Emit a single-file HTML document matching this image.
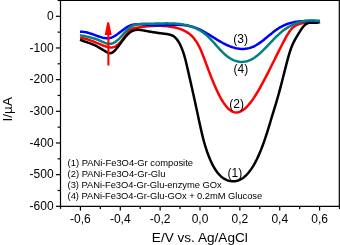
<!DOCTYPE html>
<html><head><meta charset="utf-8"><style>
html,body{margin:0;padding:0;background:#fff;}
body{width:340px;height:245px;overflow:hidden;}
svg{display:block;font-family:"Liberation Sans",sans-serif;}
.t{will-change:transform;}
</style></head><body>
<svg width="340" height="245" viewBox="0 0 340 245">
<rect width="340" height="245" fill="#fff"/>
<g fill="none" stroke-linejoin="round" stroke-linecap="butt" stroke-width="2.5">
<path d="M80.0,37.90 L81.0,37.98 L82.0,38.10 L83.0,38.26 L84.0,38.46 L85.0,38.68 L86.0,38.94 L87.0,39.23 L88.0,39.54 L89.0,39.87 L90.0,40.22 L91.0,40.59 L92.0,40.98 L93.0,41.37 L94.0,41.78 L95.0,42.19 L96.0,42.61 L97.0,43.03 L98.0,43.45 L99.0,43.87 L100.0,44.28 L101.0,44.68 L102.0,45.08 L103.0,45.46 L104.0,45.82 L105.0,46.17 L106.0,46.50 L107.0,46.79 L108.0,47.05 L109.0,47.25 L110.0,47.38 L111.0,47.43 L112.0,47.39 L113.0,47.24 L114.0,46.97 L115.0,46.57 L116.0,46.04 L117.0,45.38 L118.0,44.60 L119.0,43.70 L120.0,42.69 L121.0,41.55 L122.0,40.30 L123.0,38.95 L124.0,37.52 L125.0,36.06 L126.0,34.60 L127.0,33.19 L128.0,31.91 L129.0,30.86 L130.0,30.02 L131.0,29.38 L132.0,28.88 L133.0,28.52 L134.0,28.25 L135.0,28.04 L136.0,27.87 L137.0,27.71 L138.0,27.55 L139.0,27.40 L140.0,27.25 L141.0,27.10 L142.0,26.97 L143.0,26.84 L144.0,26.71 L145.0,26.59 L146.0,26.48 L147.0,26.38 L148.0,26.28 L149.0,26.19 L150.0,26.11 L151.0,26.04 L152.0,25.98 L153.0,25.92 L154.0,25.88 L155.0,25.84 L156.0,25.81 L157.0,25.80 L158.0,25.79 L159.0,25.80 L160.0,25.81 L161.0,25.84 L162.0,25.88 L163.0,25.93 L164.0,25.99 L165.0,26.06 L166.0,26.15 L167.0,26.25 L168.0,26.37 L169.0,26.50 L170.0,26.64 L171.0,26.79 L172.0,26.96 L173.0,27.15 L174.0,27.35 L175.0,27.57 L176.0,27.80 L177.0,28.05 L178.0,28.31 L179.0,28.60 L180.0,28.92 L181.0,29.27 L182.0,29.65 L183.0,30.07 L184.0,30.53 L185.0,31.04 L186.0,31.59 L187.0,32.20 L188.0,32.86 L189.0,33.58 L190.0,34.37 L191.0,35.23 L192.0,36.19 L193.0,37.25 L194.0,38.41 L195.0,39.70 L196.0,41.12 L197.0,42.68 L198.0,44.40 L199.0,46.29 L200.0,48.35 L201.0,50.58 L202.0,52.94 L203.0,55.43 L204.0,58.00 L205.0,60.65 L206.0,63.34 L207.0,66.05 L208.0,68.75 L209.0,71.42 L210.0,74.04 L211.0,76.62 L212.0,79.13 L213.0,81.59 L214.0,83.98 L215.0,86.31 L216.0,88.56 L217.0,90.73 L218.0,92.82 L219.0,94.82 L220.0,96.73 L221.0,98.55 L222.0,100.26 L223.0,101.87 L224.0,103.38 L225.0,104.78 L226.0,106.07 L227.0,107.25 L228.0,108.32 L229.0,109.26 L230.0,110.09 L231.0,110.80 L232.0,111.38 L233.0,111.84 L234.0,112.17 L235.0,112.38 L236.0,112.47 L237.0,112.45 L238.0,112.31 L239.0,112.07 L240.0,111.72 L241.0,111.26 L242.0,110.71 L243.0,110.07 L244.0,109.33 L245.0,108.50 L246.0,107.59 L247.0,106.60 L248.0,105.52 L249.0,104.38 L250.0,103.16 L251.0,101.87 L252.0,100.52 L253.0,99.10 L254.0,97.63 L255.0,96.10 L256.0,94.52 L257.0,92.90 L258.0,91.22 L259.0,89.51 L260.0,87.76 L261.0,85.97 L262.0,84.15 L263.0,82.30 L264.0,80.43 L265.0,78.53 L266.0,76.60 L267.0,74.66 L268.0,72.70 L269.0,70.72 L270.0,68.74 L271.0,66.74 L272.0,64.73 L273.0,62.72 L274.0,60.71 L275.0,58.69 L276.0,56.68 L277.0,54.67 L278.0,52.66 L279.0,50.67 L280.0,48.69 L281.0,46.72 L282.0,44.77 L283.0,42.83 L284.0,40.92 L285.0,39.04 L286.0,37.22 L287.0,35.46 L288.0,33.80 L289.0,32.24 L290.0,30.81 L291.0,29.53 L292.0,28.41 L293.0,27.46 L294.0,26.66 L295.0,25.98 L296.0,25.42 L297.0,24.94 L298.0,24.55 L299.0,24.21 L300.0,23.91 L301.0,23.63 L302.0,23.38 L303.0,23.14 L304.0,22.93 L305.0,22.73 L306.0,22.56 L307.0,22.40 L308.0,22.26 L309.0,22.14 L310.0,22.04 L311.0,21.95 L312.0,21.89 L313.0,21.84 L314.0,21.80 L315.0,21.77 L316.0,21.75 L317.0,21.72 L318.0,21.69 L319.0,21.65 L320.0,21.60" stroke="#f00"/>
<path d="M80.0,39.80 L81.0,40.17 L82.0,40.54 L83.0,40.89 L84.0,41.23 L85.0,41.57 L86.0,41.90 L87.0,42.24 L88.0,42.59 L89.0,42.94 L90.0,43.31 L91.0,43.69 L92.0,44.08 L93.0,44.50 L94.0,44.94 L95.0,45.41 L96.0,45.90 L97.0,46.43 L98.0,46.98 L99.0,47.55 L100.0,48.13 L101.0,48.73 L102.0,49.33 L103.0,49.94 L104.0,50.54 L105.0,51.14 L106.0,51.72 L107.0,52.27 L108.0,52.72 L109.0,53.04 L110.0,53.18 L111.0,53.09 L112.0,52.74 L113.0,52.15 L114.0,51.35 L115.0,50.38 L116.0,49.26 L117.0,48.05 L118.0,46.76 L119.0,45.42 L120.0,44.07 L121.0,42.71 L122.0,41.36 L123.0,40.02 L124.0,38.72 L125.0,37.47 L126.0,36.28 L127.0,35.16 L128.0,34.13 L129.0,33.21 L130.0,32.40 L131.0,31.71 L132.0,31.15 L133.0,30.70 L134.0,30.35 L135.0,30.10 L136.0,29.93 L137.0,29.84 L138.0,29.81 L139.0,29.84 L140.0,29.92 L141.0,30.05 L142.0,30.20 L143.0,30.37 L144.0,30.56 L145.0,30.75 L146.0,30.94 L147.0,31.13 L148.0,31.31 L149.0,31.49 L150.0,31.66 L151.0,31.83 L152.0,31.99 L153.0,32.15 L154.0,32.31 L155.0,32.46 L156.0,32.61 L157.0,32.76 L158.0,32.91 L159.0,33.05 L160.0,33.19 L161.0,33.33 L162.0,33.46 L163.0,33.59 L164.0,33.72 L165.0,33.85 L166.0,33.98 L167.0,34.11 L168.0,34.25 L169.0,34.44 L170.0,34.67 L171.0,34.99 L172.0,35.40 L173.0,35.92 L174.0,36.57 L175.0,37.38 L176.0,38.36 L177.0,39.52 L178.0,40.90 L179.0,42.51 L180.0,44.36 L181.0,46.48 L182.0,48.89 L183.0,51.61 L184.0,54.68 L185.0,58.13 L186.0,62.01 L187.0,66.26 L188.0,70.64 L189.0,75.01 L190.0,79.40 L191.0,83.81 L192.0,88.26 L193.0,92.75 L194.0,97.27 L195.0,101.83 L196.0,106.43 L197.0,111.07 L198.0,115.74 L199.0,120.42 L200.0,125.05 L201.0,129.56 L202.0,133.89 L203.0,137.97 L204.0,141.75 L205.0,145.25 L206.0,148.48 L207.0,151.48 L208.0,154.25 L209.0,156.84 L210.0,159.26 L211.0,161.51 L212.0,163.61 L213.0,165.56 L214.0,167.36 L215.0,169.02 L216.0,170.55 L217.0,171.95 L218.0,173.23 L219.0,174.39 L220.0,175.44 L221.0,176.38 L222.0,177.22 L223.0,177.96 L224.0,178.62 L225.0,179.19 L226.0,179.68 L227.0,180.10 L228.0,180.45 L229.0,180.73 L230.0,180.96 L231.0,181.13 L232.0,181.24 L233.0,181.29 L234.0,181.27 L235.0,181.18 L236.0,181.03 L237.0,180.81 L238.0,180.52 L239.0,180.15 L240.0,179.71 L241.0,179.19 L242.0,178.59 L243.0,177.91 L244.0,177.15 L245.0,176.31 L246.0,175.38 L247.0,174.36 L248.0,173.25 L249.0,172.05 L250.0,170.76 L251.0,169.37 L252.0,167.88 L253.0,166.30 L254.0,164.62 L255.0,162.83 L256.0,160.94 L257.0,158.94 L258.0,156.84 L259.0,154.63 L260.0,152.30 L261.0,149.86 L262.0,147.31 L263.0,144.64 L264.0,141.85 L265.0,138.94 L266.0,135.92 L267.0,132.80 L268.0,129.60 L269.0,126.35 L270.0,123.06 L271.0,119.76 L272.0,116.46 L273.0,113.18 L274.0,109.92 L275.0,106.65 L276.0,103.34 L277.0,99.96 L278.0,96.48 L279.0,92.89 L280.0,89.17 L281.0,85.36 L282.0,81.48 L283.0,77.55 L284.0,73.60 L285.0,69.66 L286.0,65.74 L287.0,61.91 L288.0,58.20 L289.0,54.69 L290.0,51.44 L291.0,48.49 L292.0,45.89 L293.0,43.59 L294.0,41.54 L295.0,39.67 L296.0,37.93 L297.0,36.27 L298.0,34.62 L299.0,32.96 L300.0,31.33 L301.0,29.76 L302.0,28.29 L303.0,26.96 L304.0,25.80 L305.0,24.85 L306.0,24.10 L307.0,23.54 L308.0,23.14 L309.0,22.88 L310.0,22.72 L311.0,22.66 L312.0,22.65 L313.0,22.68 L314.0,22.73 L315.0,22.77 L316.0,22.78 L317.0,22.73 L318.0,22.60 L319.0,22.36 L320.0,22.00" stroke="#000"/>
<path d="M80.0,31.82 L81.0,31.79 L82.0,31.80 L83.0,31.87 L84.0,31.98 L85.0,32.13 L86.0,32.32 L87.0,32.55 L88.0,32.80 L89.0,33.08 L90.0,33.39 L91.0,33.71 L92.0,34.05 L93.0,34.40 L94.0,34.76 L95.0,35.12 L96.0,35.49 L97.0,35.85 L98.0,36.20 L99.0,36.54 L100.0,36.87 L101.0,37.18 L102.0,37.47 L103.0,37.72 L104.0,37.93 L105.0,38.10 L106.0,38.21 L107.0,38.26 L108.0,38.25 L109.0,38.16 L110.0,37.98 L111.0,37.72 L112.0,37.36 L113.0,36.92 L114.0,36.40 L115.0,35.81 L116.0,35.17 L117.0,34.48 L118.0,33.75 L119.0,33.00 L120.0,32.22 L121.0,31.44 L122.0,30.66 L123.0,29.89 L124.0,29.15 L125.0,28.43 L126.0,27.76 L127.0,27.14 L128.0,26.57 L129.0,26.08 L130.0,25.66 L131.0,25.29 L132.0,24.99 L133.0,24.74 L134.0,24.54 L135.0,24.39 L136.0,24.29 L137.0,24.22 L138.0,24.19 L139.0,24.19 L140.0,24.22 L141.0,24.27 L142.0,24.34 L143.0,24.43 L144.0,24.53 L145.0,24.63 L146.0,24.74 L147.0,24.86 L148.0,24.96 L149.0,25.06 L150.0,25.15 L151.0,25.22 L152.0,25.28 L153.0,25.33 L154.0,25.36 L155.0,25.38 L156.0,25.39 L157.0,25.39 L158.0,25.38 L159.0,25.37 L160.0,25.34 L161.0,25.31 L162.0,25.28 L163.0,25.24 L164.0,25.20 L165.0,25.15 L166.0,25.11 L167.0,25.06 L168.0,25.02 L169.0,24.98 L170.0,24.94 L171.0,24.90 L172.0,24.87 L173.0,24.84 L174.0,24.82 L175.0,24.81 L176.0,24.80 L177.0,24.81 L178.0,24.82 L179.0,24.85 L180.0,24.89 L181.0,24.94 L182.0,25.01 L183.0,25.09 L184.0,25.19 L185.0,25.30 L186.0,25.43 L187.0,25.59 L188.0,25.76 L189.0,25.95 L190.0,26.16 L191.0,26.40 L192.0,26.66 L193.0,26.95 L194.0,27.26 L195.0,27.60 L196.0,27.96 L197.0,28.35 L198.0,28.77 L199.0,29.22 L200.0,29.69 L201.0,30.18 L202.0,30.69 L203.0,31.22 L204.0,31.76 L205.0,32.33 L206.0,32.90 L207.0,33.49 L208.0,34.08 L209.0,34.69 L210.0,35.30 L211.0,35.91 L212.0,36.53 L213.0,37.15 L214.0,37.77 L215.0,38.39 L216.0,39.01 L217.0,39.62 L218.0,40.22 L219.0,40.82 L220.0,41.40 L221.0,41.97 L222.0,42.53 L223.0,43.08 L224.0,43.60 L225.0,44.11 L226.0,44.60 L227.0,45.07 L228.0,45.51 L229.0,45.94 L230.0,46.34 L231.0,46.71 L232.0,47.06 L233.0,47.38 L234.0,47.67 L235.0,47.94 L236.0,48.18 L237.0,48.38 L238.0,48.56 L239.0,48.70 L240.0,48.81 L241.0,48.88 L242.0,48.92 L243.0,48.92 L244.0,48.89 L245.0,48.81 L246.0,48.70 L247.0,48.55 L248.0,48.36 L249.0,48.12 L250.0,47.84 L251.0,47.52 L252.0,47.15 L253.0,46.74 L254.0,46.28 L255.0,45.78 L256.0,45.22 L257.0,44.63 L258.0,44.01 L259.0,43.34 L260.0,42.65 L261.0,41.93 L262.0,41.18 L263.0,40.42 L264.0,39.64 L265.0,38.84 L266.0,38.03 L267.0,37.21 L268.0,36.39 L269.0,35.57 L270.0,34.75 L271.0,33.94 L272.0,33.14 L273.0,32.35 L274.0,31.57 L275.0,30.81 L276.0,30.08 L277.0,29.37 L278.0,28.69 L279.0,28.04 L280.0,27.43 L281.0,26.85 L282.0,26.31 L283.0,25.81 L284.0,25.33 L285.0,24.89 L286.0,24.48 L287.0,24.10 L288.0,23.74 L289.0,23.42 L290.0,23.12 L291.0,22.85 L292.0,22.60 L293.0,22.37 L294.0,22.17 L295.0,21.98 L296.0,21.82 L297.0,21.67 L298.0,21.55 L299.0,21.43 L300.0,21.34 L301.0,21.26 L302.0,21.19 L303.0,21.13 L304.0,21.09 L305.0,21.05 L306.0,21.03 L307.0,21.01 L308.0,21.00 L309.0,20.99 L310.0,20.99 L311.0,21.00 L312.0,21.00 L313.0,21.01 L314.0,21.01 L315.0,21.02 L316.0,21.02 L317.0,21.02 L318.0,21.02 L319.0,21.01 L320.0,20.99" stroke="#00f"/>
<path d="M80.0,35.25 L81.0,35.43 L82.0,35.61 L83.0,35.80 L84.0,36.00 L85.0,36.20 L86.0,36.41 L87.0,36.62 L88.0,36.85 L89.0,37.08 L90.0,37.33 L91.0,37.59 L92.0,37.87 L93.0,38.16 L94.0,38.46 L95.0,38.78 L96.0,39.12 L97.0,39.48 L98.0,39.86 L99.0,40.26 L100.0,40.69 L101.0,41.13 L102.0,41.58 L103.0,42.03 L104.0,42.46 L105.0,42.85 L106.0,43.20 L107.0,43.49 L108.0,43.70 L109.0,43.81 L110.0,43.83 L111.0,43.72 L112.0,43.49 L113.0,43.13 L114.0,42.65 L115.0,42.07 L116.0,41.39 L117.0,40.61 L118.0,39.76 L119.0,38.82 L120.0,37.82 L121.0,36.77 L122.0,35.66 L123.0,34.52 L124.0,33.35 L125.0,32.20 L126.0,31.08 L127.0,30.02 L128.0,29.03 L129.0,28.15 L130.0,27.38 L131.0,26.70 L132.0,26.12 L133.0,25.64 L134.0,25.25 L135.0,24.93 L136.0,24.67 L137.0,24.45 L138.0,24.27 L139.0,24.12 L140.0,24.00 L141.0,23.90 L142.0,23.83 L143.0,23.78 L144.0,23.74 L145.0,23.72 L146.0,23.70 L147.0,23.70 L148.0,23.70 L149.0,23.70 L150.0,23.69 L151.0,23.69 L152.0,23.67 L153.0,23.66 L154.0,23.64 L155.0,23.62 L156.0,23.59 L157.0,23.57 L158.0,23.54 L159.0,23.51 L160.0,23.49 L161.0,23.46 L162.0,23.44 L163.0,23.42 L164.0,23.40 L165.0,23.38 L166.0,23.37 L167.0,23.37 L168.0,23.37 L169.0,23.38 L170.0,23.39 L171.0,23.41 L172.0,23.44 L173.0,23.48 L174.0,23.53 L175.0,23.58 L176.0,23.65 L177.0,23.73 L178.0,23.83 L179.0,23.93 L180.0,24.05 L181.0,24.18 L182.0,24.33 L183.0,24.49 L184.0,24.67 L185.0,24.86 L186.0,25.07 L187.0,25.30 L188.0,25.55 L189.0,25.82 L190.0,26.11 L191.0,26.42 L192.0,26.75 L193.0,27.11 L194.0,27.50 L195.0,27.91 L196.0,28.36 L197.0,28.83 L198.0,29.34 L199.0,29.88 L200.0,30.46 L201.0,31.07 L202.0,31.72 L203.0,32.42 L204.0,33.15 L205.0,33.93 L206.0,34.75 L207.0,35.62 L208.0,36.54 L209.0,37.50 L210.0,38.51 L211.0,39.55 L212.0,40.62 L213.0,41.72 L214.0,42.83 L215.0,43.95 L216.0,45.08 L217.0,46.21 L218.0,47.33 L219.0,48.44 L220.0,49.53 L221.0,50.59 L222.0,51.63 L223.0,52.63 L224.0,53.58 L225.0,54.49 L226.0,55.34 L227.0,56.14 L228.0,56.89 L229.0,57.59 L230.0,58.23 L231.0,58.83 L232.0,59.37 L233.0,59.86 L234.0,60.29 L235.0,60.68 L236.0,61.01 L237.0,61.29 L238.0,61.51 L239.0,61.69 L240.0,61.81 L241.0,61.88 L242.0,61.89 L243.0,61.86 L244.0,61.77 L245.0,61.62 L246.0,61.43 L247.0,61.18 L248.0,60.88 L249.0,60.52 L250.0,60.12 L251.0,59.66 L252.0,59.14 L253.0,58.58 L254.0,57.96 L255.0,57.28 L256.0,56.56 L257.0,55.79 L258.0,54.98 L259.0,54.13 L260.0,53.25 L261.0,52.33 L262.0,51.38 L263.0,50.41 L264.0,49.41 L265.0,48.40 L266.0,47.37 L267.0,46.33 L268.0,45.28 L269.0,44.22 L270.0,43.17 L271.0,42.11 L272.0,41.06 L273.0,40.02 L274.0,38.99 L275.0,37.97 L276.0,36.98 L277.0,36.00 L278.0,35.06 L279.0,34.14 L280.0,33.25 L281.0,32.39 L282.0,31.57 L283.0,30.79 L284.0,30.03 L285.0,29.31 L286.0,28.61 L287.0,27.95 L288.0,27.32 L289.0,26.72 L290.0,26.15 L291.0,25.61 L292.0,25.10 L293.0,24.62 L294.0,24.17 L295.0,23.75 L296.0,23.35 L297.0,22.98 L298.0,22.64 L299.0,22.32 L300.0,22.03 L301.0,21.77 L302.0,21.54 L303.0,21.32 L304.0,21.14 L305.0,20.97 L306.0,20.84 L307.0,20.72 L308.0,20.63 L309.0,20.56 L310.0,20.52 L311.0,20.50 L312.0,20.50 L313.0,20.52 L314.0,20.56 L315.0,20.62 L316.0,20.71 L317.0,20.81 L318.0,20.93 L319.0,21.08 L320.0,21.24" stroke="#008080"/>
</g>
<g stroke="#f00" fill="#f00">
<line x1="108.4" y1="30" x2="108.4" y2="65.5" stroke-width="2.1"/>
<polygon points="107.3,22.2 109.1,22.2 111.7,35 104.7,35" stroke="none"/>
</g>
<g stroke="#000" stroke-width="1.2" fill="none">
<line x1="58.3" y1="0.5" x2="340" y2="0.5"/>
<line x1="339.3" y1="0" x2="339.3" y2="206.9"/>
<line x1="60.5" y1="0" x2="60.5" y2="206.9"/>
<line x1="60" y1="206.3" x2="340" y2="206.3"/>
<line x1="60.50" y1="206.3" x2="60.50" y2="208.90"/><line x1="80.43" y1="206.3" x2="80.43" y2="210.60"/><line x1="100.36" y1="206.3" x2="100.36" y2="208.90"/><line x1="120.29" y1="206.3" x2="120.29" y2="210.60"/><line x1="140.22" y1="206.3" x2="140.22" y2="208.90"/><line x1="160.15" y1="206.3" x2="160.15" y2="210.60"/><line x1="180.08" y1="206.3" x2="180.08" y2="208.90"/><line x1="200.01" y1="206.3" x2="200.01" y2="210.60"/><line x1="219.94" y1="206.3" x2="219.94" y2="208.90"/><line x1="239.87" y1="206.3" x2="239.87" y2="210.60"/><line x1="259.80" y1="206.3" x2="259.80" y2="208.90"/><line x1="279.73" y1="206.3" x2="279.73" y2="210.60"/><line x1="299.66" y1="206.3" x2="299.66" y2="208.90"/><line x1="319.59" y1="206.3" x2="319.59" y2="210.60"/><line x1="339.52" y1="206.3" x2="339.52" y2="208.90"/><line x1="55.90" y1="206.32" x2="60.5" y2="206.32"/><line x1="57.60" y1="190.49" x2="60.5" y2="190.49"/><line x1="55.90" y1="174.65" x2="60.5" y2="174.65"/><line x1="57.60" y1="158.81" x2="60.5" y2="158.81"/><line x1="55.90" y1="142.98" x2="60.5" y2="142.98"/><line x1="57.60" y1="127.14" x2="60.5" y2="127.14"/><line x1="55.90" y1="111.31" x2="60.5" y2="111.31"/><line x1="57.60" y1="95.47" x2="60.5" y2="95.47"/><line x1="55.90" y1="79.64" x2="60.5" y2="79.64"/><line x1="57.60" y1="63.80" x2="60.5" y2="63.80"/><line x1="55.90" y1="47.97" x2="60.5" y2="47.97"/><line x1="57.60" y1="32.13" x2="60.5" y2="32.13"/><line x1="55.90" y1="16.30" x2="60.5" y2="16.30"/><line x1="57.60" y1="0.47" x2="60.5" y2="0.47"/>
</g>
<g class="t" font-size="12" fill="#000">
<text x="80.43" y="223" text-anchor="middle">-0,6</text><text x="120.29" y="223" text-anchor="middle">-0,4</text><text x="160.15" y="223" text-anchor="middle">-0,2</text><text x="200.01" y="223" text-anchor="middle">0,0</text><text x="239.87" y="223" text-anchor="middle">0,2</text><text x="279.73" y="223" text-anchor="middle">0,4</text><text x="319.59" y="223" text-anchor="middle">0,6</text>
<text x="53.6" y="19.90" text-anchor="end">0</text><text x="53.6" y="51.57" text-anchor="end">-100</text><text x="53.6" y="83.24" text-anchor="end">-200</text><text x="53.6" y="114.91" text-anchor="end">-300</text><text x="53.6" y="146.58" text-anchor="end">-400</text><text x="53.6" y="178.25" text-anchor="end">-500</text><text x="53.6" y="209.92" text-anchor="end">-600</text>
<text x="247.8" y="241.8" text-anchor="end" font-size="13.6">E/V vs. Ag/AgCl</text>
<text transform="translate(11.8,121.4) rotate(-90)" font-size="13.5">I/µA</text>
<text x="227.5" y="177">(1)</text>
<text x="229.3" y="107.5">(2)</text>
<text x="233.3" y="42.9">(3)</text>
<text x="233.6" y="73.2">(4)</text>
</g>
<g class="t" font-size="9.4" fill="#000">
<text x="67.6" y="166.40">(1) PANi-Fe3O4-Gr composite</text><text x="67.6" y="177.40">(2) PANi-Fe3O4-Gr-Glu</text><text x="67.6" y="188.40" textLength="154.0" lengthAdjust="spacing">(3) PANi-Fe3O4-Gr-Glu-enzyme GOx</text><text x="67.6" y="199.40" textLength="194.6" lengthAdjust="spacing">(4) PANi-Fe3O4-Gr-Glu-GOx + 0.2mM Glucose</text>
</g>
</svg>
</body></html>
